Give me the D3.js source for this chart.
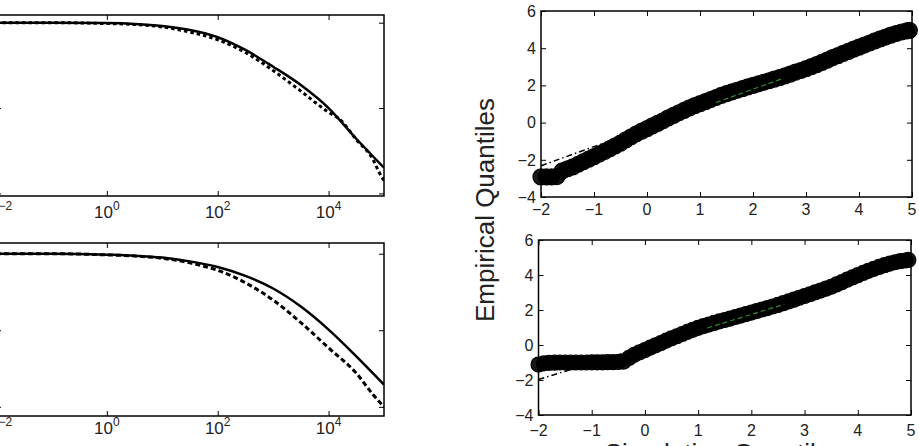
<!DOCTYPE html>
<meta charset="utf-8">
<style>
body { margin: 0; background: #fff; }
svg { font-family: "Liberation Sans", Arial, sans-serif; }
.frame { fill: none; stroke: #000; stroke-width: 1.5; }
.axis .domain { display: none; }
.axis line { stroke: #000; stroke-width: 1; }
.lbl { fill: #222; }
</style>
<body>
<svg width="919" height="446"></svg>
<script src="https://d3js.org/d3.v7.min.js"></script>
<script>

// ---- left panels: survival curves on log-log axes ----
var decadeTicks = [1e-2, 1, 1e2, 1e4];
var probTicks = [1, 0.1, 0.01];

var tSolid = [0.01, 0.1, 1, 3.16, 10, 31.6, 100, 316, 1000, 3160, 1e4, 3.16e4, 1e5];
var topSolid = [1, 1, 0.989, 0.966, 0.914, 0.82, 0.675, 0.479, 0.305, 0.186, 0.1, 0.0437, 0.02];
var botSolid = [1, 1, 0.971, 0.944, 0.891, 0.794, 0.67, 0.513, 0.351, 0.204, 0.102, 0.0457, 0.0195];

var tTopDot = [0.01, 0.1, 1, 3.16, 10, 31.6, 100, 316, 1000, 3160, 1e4, 1.58e4, 3.16e4, 6.31e4, 8.13e4, 1e5];
var topDot = [1, 1, 0.977, 0.955, 0.891, 0.776, 0.631, 0.447, 0.275, 0.158, 0.0891, 0.0741, 0.0427, 0.0251, 0.0178, 0.0141];

var tBotDash = [0.01, 0.1, 1, 3.16, 10, 31.6, 100, 316, 1000, 3160, 1e4, 3.16e4, 6.31e4, 1e5];
var botDash = [1, 1, 0.966, 0.933, 0.871, 0.759, 0.607, 0.417, 0.248, 0.126, 0.0589, 0.0275, 0.0145, 0.01];

// ---- right panels: Q-Q plots ----
var qqTicksX = [-2, -1, 0, 1, 2, 3, 4, 5];
var qqTicksY = [-4, -2, 0, 2, 4, 6];

var simQ = [-2, -1.9, -1.8, -1.7, -1.6, -1.5, -1.4, -1.3, -1.2, -1.1,
  -1, -0.9, -0.8, -0.7, -0.6, -0.5, -0.4, -0.3, -0.2, -0.1,
  0, 0.1, 0.2, 0.3, 0.4, 0.5, 0.6, 0.7, 0.8, 0.9,
  1, 1.1, 1.2, 1.3, 1.4, 1.5, 1.6, 1.7, 1.8, 1.9,
  2, 2.1, 2.2, 2.3, 2.4, 2.5, 2.6, 2.7, 2.8, 2.9,
  3, 3.1, 3.2, 3.3, 3.4, 3.5, 3.6, 3.7, 3.8, 3.9,
  4, 4.1, 4.2, 4.3, 4.4, 4.5, 4.6, 4.7, 4.8, 4.9, 4.95];

var empTop = [-2.92, -2.92, -2.92, -2.9, -2.6, -2.48, -2.38, -2.24, -2.1, -1.96,
  -1.83, -1.69, -1.55, -1.4, -1.25, -1.1, -0.93, -0.76, -0.6, -0.46,
  -0.32, -0.18, -0.04, 0.1, 0.25, 0.39, 0.53, 0.66, 0.79, 0.91,
  1.02, 1.13, 1.24, 1.35, 1.46, 1.56, 1.65, 1.74, 1.83, 1.92,
  2.0, 2.08, 2.17, 2.25, 2.34, 2.42, 2.51, 2.61, 2.71, 2.8,
  2.9, 3.01, 3.12, 3.24, 3.36, 3.49, 3.6, 3.72, 3.83, 3.95,
  4.06, 4.17, 4.28, 4.39, 4.5, 4.6, 4.7, 4.79, 4.87, 4.93, 4.96];

var empBot = [-1.12, -1.05, -1.02, -1.01, -1.0, -1.0, -1.0, -1.0, -1.0, -1.0,
  -0.99, -0.99, -0.99, -0.98, -0.98, -0.97, -0.95, -0.74, -0.56, -0.42,
  -0.29, -0.15, -0.02, 0.11, 0.25, 0.38, 0.5, 0.63, 0.75, 0.87,
  0.98, 1.08, 1.17, 1.26, 1.35, 1.43, 1.51, 1.6, 1.68, 1.77,
  1.85, 1.94, 2.03, 2.11, 2.2, 2.29, 2.39, 2.49, 2.59, 2.7,
  2.8, 2.9, 3.01, 3.11, 3.22, 3.33, 3.46, 3.59, 3.73, 3.86,
  3.99, 4.12, 4.24, 4.35, 4.46, 4.56, 4.65, 4.73, 4.79, 4.83, 4.86];

// fitted reference lines (full range, dash-dot) and inter-quartile part (green)
var refTopX = [-2, 5], refTopY = [-2.32, 4.88];
var iqrTopX = [1.3, 2.55], iqrTopY = [1.08, 2.36];
var refBotX = [-2, 5], refBotY = [-1.97, 4.62];
var iqrBotX = [1.17, 2.62], iqrBotY = [0.97, 2.33];

var svg = d3.select("svg");
var zip = function(a, b) { return a.map(function(v, i) { return [v, b[i]]; }); };
var idn = 0;

function frameAndTicks(g, x, y, xt, yt, w, h) {
  g.append("g").attr("class", "axis").attr("transform", "translate(0," + h + ")")
    .call(d3.axisBottom(x).tickValues(xt).tickSize(-5).tickFormat(""));
  g.append("g").attr("class", "axis")
    .call(d3.axisTop(x).tickValues(xt).tickSize(-5).tickFormat(""));
  g.append("g").attr("class", "axis")
    .call(d3.axisLeft(y).tickValues(yt).tickSize(-5).tickFormat(""));
  g.append("g").attr("class", "axis").attr("transform", "translate(" + w + ",0)")
    .call(d3.axisRight(y).tickValues(yt).tickSize(-5).tickFormat(""));
  g.append("rect").attr("class", "frame").attr("width", w).attr("height", h);
}

function survPanel(box, yDom, curves, lblOff) {
  var w = box.r - box.l, h = box.b - box.t;
  var g = svg.append("g").attr("transform", "translate(" + box.l + "," + box.t + ")");
  var x = d3.scaleLog().domain([1e-2, 1e5]).range([0, w]);
  var y = d3.scaleLog().domain(yDom).range([h, 0]);
  var cid = "clip" + (idn++);
  g.append("clipPath").attr("id", cid).append("rect").attr("width", w).attr("height", h);
  var line = d3.line().x(function(d) { return x(d[0]); }).y(function(d) { return y(d[1]); })
    .curve(d3.curveMonotoneX);
  var cg = g.append("g").attr("clip-path", "url(#" + cid + ")");
  curves.forEach(function(c) {
    cg.append("path").datum(zip(c.t, c.v))
      .attr("fill", "none").attr("stroke", "#000")
      .attr("stroke-width", c.w).attr("stroke-dasharray", c.dash)
      .attr("d", line);
  });
  frameAndTicks(g, x, y, decadeTicks, probTicks, w, h);
  var lab = g.selectAll(".xl").data(decadeTicks).enter().append("text")
    .attr("class", "lbl")
    .attr("x", function(d) { return x(d); })
    .attr("y", h + lblOff)
    .attr("text-anchor", "middle")
    .style("font-size", "17px");
  lab.append("tspan").text("10");
  lab.append("tspan").attr("dy", -8).style("font-size", "12px")
    .text(function(d) { return d3.format("d")(Math.round(Math.log10(d))); });
}

function qqPanel(box, emp, rx, ry, ix, iy, lblOff, rad) {
  var w = box.r - box.l, h = box.b - box.t;
  var g = svg.append("g").attr("transform", "translate(" + box.l + "," + box.t + ")");
  var x = d3.scaleLinear().domain([-2, 5]).range([0, w]);
  var y = d3.scaleLinear().domain([-4, 6]).range([h, 0]);
  var line = d3.line().x(function(d) { return x(d[0]); }).y(function(d) { return y(d[1]); });
  g.append("path").datum(zip(rx, ry))
    .attr("fill", "none").attr("stroke", "#000").attr("stroke-width", 1.5)
    .attr("stroke-dasharray", "6,3,1.5,3").attr("d", line);
  g.selectAll("circle").data(zip(simQ, emp)).enter().append("circle")
    .attr("cx", function(d) { return x(d[0]); })
    .attr("cy", function(d) { return y(d[1]); })
    .attr("r", rad)
    .attr("fill", "#000").attr("fill-opacity", 0.9)
    .attr("stroke", "#000").attr("stroke-width", 1.2);
  g.append("path").datum(zip(ix, iy))
    .attr("fill", "none").attr("stroke", "#2e8b2e").attr("stroke-width", 1.2)
    .attr("stroke-dasharray", "5,3").attr("d", line);
  frameAndTicks(g, x, y, qqTicksX, qqTicksY, w, h);
  g.selectAll(".xl").data(qqTicksX).enter().append("text")
    .attr("class", "lbl").attr("x", function(d) { return x(d); }).attr("y", h + lblOff)
    .attr("text-anchor", "middle").style("font-size", "16px")
    .text(d3.format("d"));
  g.selectAll(".yl").data(qqTicksY).enter().append("text")
    .attr("class", "lbl").attr("x", -5).attr("y", function(d) { return y(d); })
    .attr("dy", "0.36em").attr("text-anchor", "end").style("font-size", "16px")
    .text(d3.format("d"));
}

survPanel({l: -4, r: 384, t: 15, b: 196}, [Math.pow(10, -2.03), Math.pow(10, 0.09)], [
  {t: tTopDot, v: topDot, w: 3, dash: "3.5,3"},
  {t: tSolid, v: topSolid, w: 2.5, dash: null}
], 22);

survPanel({l: -4, r: 384, t: 243, b: 416}, [Math.pow(10, -2.12), Math.pow(10, 0.14)], [
  {t: tBotDash, v: botDash, w: 3, dash: "5,3"},
  {t: tSolid, v: botSolid, w: 2.5, dash: null}
], 18);

qqPanel({l: 541, r: 912, t: 11, b: 197}, empTop, refTopX, refTopY, iqrTopX, iqrTopY, 18, 8);
qqPanel({l: 538.5, r: 911, t: 240, b: 415}, empBot, refBotX, refBotY, iqrBotX, iqrBotY, 21, 7.5);

svg.append("text").attr("class", "lbl")
  .attr("transform", "translate(494,210) rotate(-90)")
  .attr("text-anchor", "middle").style("font-size", "26px")
  .text("Empirical Quantiles");

svg.append("text").attr("class", "lbl")
  .attr("x", 724).attr("y", 462)
  .attr("text-anchor", "middle").style("font-size", "26px")
  .text("Simulation Quantiles");

svg.append("text").attr("class", "lbl")
  .attr("x", 190).attr("y", 466)
  .attr("text-anchor", "middle").style("font-size", "24px")
  .text("(b)");

</script>
</body>
